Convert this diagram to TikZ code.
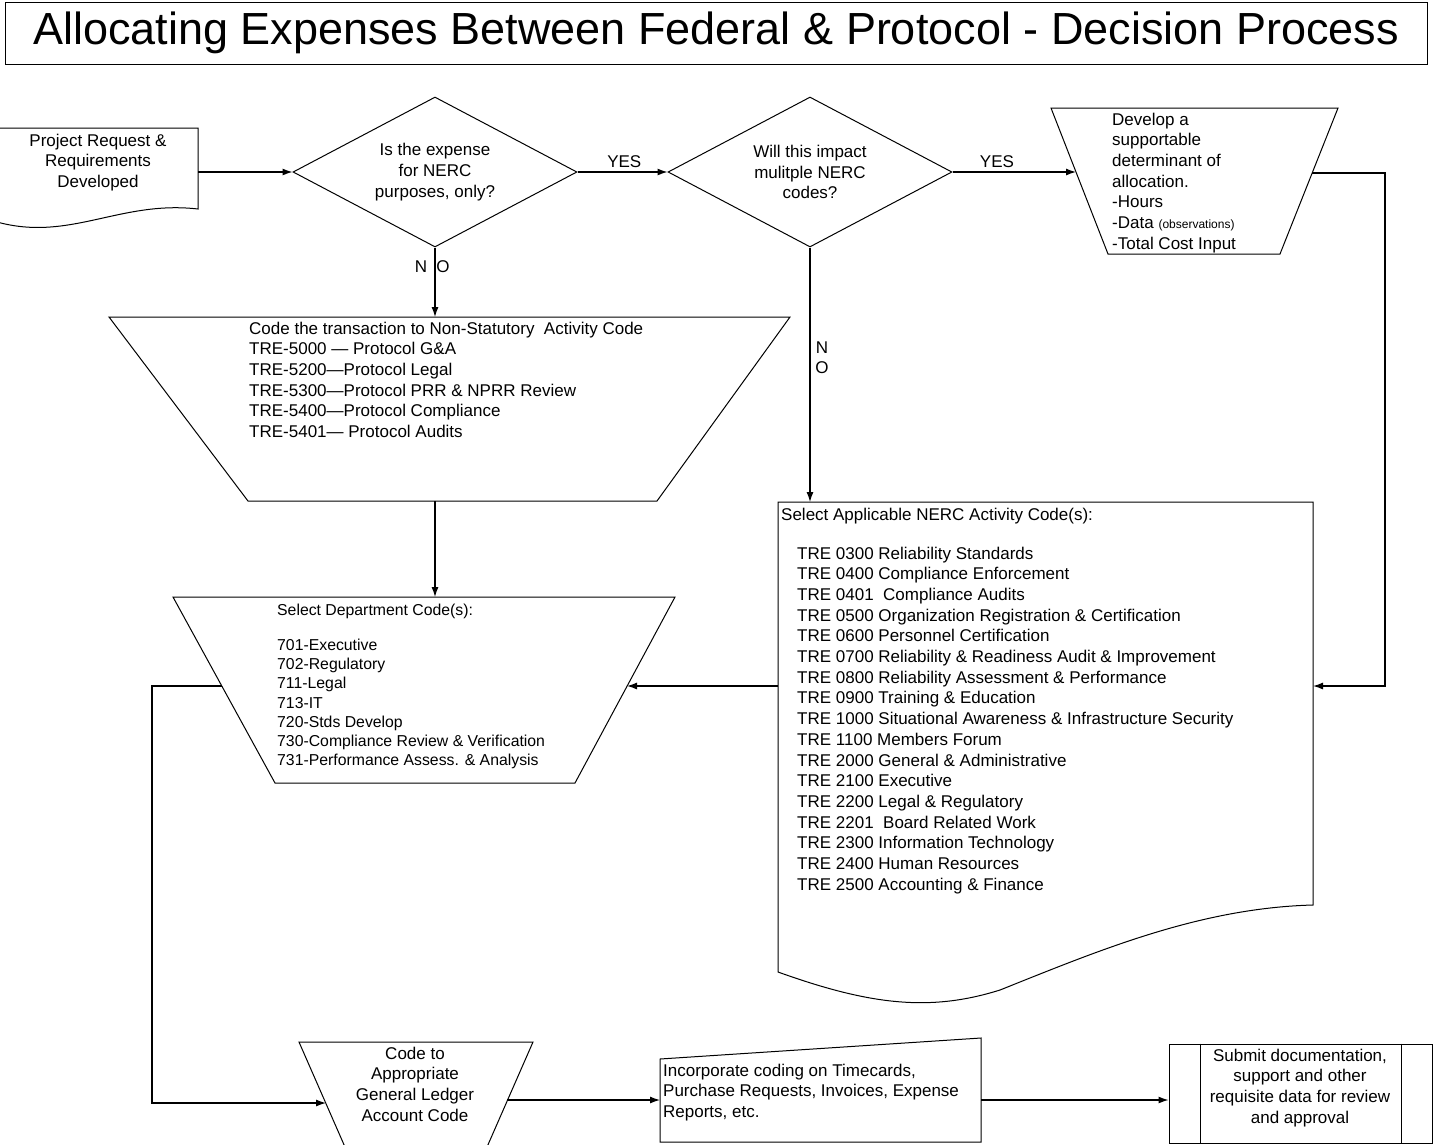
\documentclass[tikz,border=0pt]{standalone}
\usepackage{fontspec}
\setmainfont{Liberation Sans}
\usetikzlibrary{arrows.meta, shapes.geometric}

\begin{document}
\begin{tikzpicture}[x=1pt, y=-1pt,
    >={Latex[length=10pt, width=7pt]},   % Pfeilspitzen
    font=\fontsize{17}{20.7}\selectfont,
    outline/.style={draw, line width=1pt},
    decide/.style={outline, diamond, aspect=1.9, minimum width=284pt, minimum height=150pt, inner sep=0pt, align=center},
    txt/.style={inner sep=0pt, align=left, anchor=north west},
    ctxt/.style={inner sep=0pt, align=center, anchor=north},
    lbl/.style={inner sep=0pt},
    flow/.style={->, line width=1.2pt}]
  % Bildbereich
  \useasboundingbox (0,0) rectangle (1433,1144);
  \clip (0,0) rectangle (1433,1144);
  % Titel
  \node[outline, minimum width=1422pt, minimum height=62pt, inner sep=0pt, font=\fontsize{45}{54}\selectfont] (title) at (716,33)
    {Allocating Expenses Between Federal \& Protocol - Decision Process};
  % Projektanfrage (Dokument)
  \draw[outline] (-3,128) -- (198,128) -- (198,209) .. controls (120,200) and (70,242) .. (-3,222) -- cycle;
  \node[ctxt] (req) at (98,133.5) {Project Request \&\\Requirements\\Developed};
  \coordinate (reqE) at (198,172);
  % Entscheidungen
  \node[decide] (q1) at (435,172) {Is the expense\\for NERC\\purposes, only?};
  \node[decide] (q2) at (810,172) {Will this impact\\mulitple NERC\\codes?};
  % Verteilschluessel
  \draw[outline] (1051,108) -- (1338,108) -- (1280,254) -- (1108,254) -- cycle;
  \node[txt] (alloc) at (1112,112.5) {Develop a\\supportable\\determinant of\\allocation.\\-Hours\\-Data {\fontsize{12}{14}\selectfont(observations)}\\-Total Cost Input};
  \coordinate (allocW) at (1076,172);
  \coordinate (allocE) at (1312,173);
  % Nicht-gesetzliche Codes
  \draw[outline] (109,317) -- (790,317) -- (657,501) -- (248,501) -- cycle;
  \node[txt] (nonstat) at (249,321.5) {Code the transaction to Non-Statutory\ \ Activity Code\\TRE-5000 — Protocol G\&A\\TRE-5200—Protocol Legal\\TRE-5300—Protocol PRR \& NPRR Review\\TRE-5400—Protocol Compliance\\TRE-5401— Protocol Audits};
  \coordinate (nonN) at (435,317);
  \coordinate (nonS) at (435,501);
  % Abteilungen
  \draw[outline] (173,597) -- (675,597) -- (575,783) -- (275,783) -- cycle;
  \node[txt, font=\fontsize{15.8}{19.1}\selectfont] (dept) at (277,604) {Select Department Code(s):\\[16pt]701-Executive\\702-Regulatory\\711-Legal\\713-IT\\720-Stds Develop\\730-Compliance Review \& Verification\\731-Performance Assess. \& Analysis};
  \coordinate (deptN) at (435,597);
  \coordinate (deptW) at (222,686);
  \coordinate (deptE) at (627,686);
  % NERC Codes (Dokument)
  \draw[outline] (778,502) -- (1313,502) -- (1313,905) .. controls (1200,908) and (1100,950) .. (1000,990)
    .. controls (930,1012) and (870,1005) .. (778,972) -- cycle;
  \node[txt] (nercHead) at (781,507.5) {Select Applicable NERC Activity Code(s):};
  \node[txt] (nercList) at (797,546.5) {TRE 0300 Reliability Standards\\TRE 0400 Compliance Enforcement\\TRE 0401\ \ Compliance Audits\\TRE 0500 Organization Registration \& Certification\\TRE 0600 Personnel Certification\\TRE 0700 Reliability \& Readiness Audit \& Improvement\\TRE 0800 Reliability Assessment \& Performance\\TRE 0900 Training \& Education\\TRE 1000 Situational Awareness \& Infrastructure Security\\TRE 1100 Members Forum\\TRE 2000 General \& Administrative\\TRE 2100 Executive\\TRE 2200 Legal \& Regulatory\\TRE 2201\ \ Board Related Work\\TRE 2300 Information Technology\\TRE 2400 Human Resources\\TRE 2500 Accounting \& Finance};
  \coordinate (nercN) at (810,502);
  \coordinate (nercW) at (778,686);
  \coordinate (nercE) at (1313,686);
  % Hauptbuch
  \draw[outline] (299,1042) -- (533,1042) -- (487,1147) -- (345,1147) -- cycle;
  \node[ctxt] (gl) at (415,1046.5) {Code to\\Appropriate\\General Ledger\\Account Code};
  \coordinate (glW) at (326,1103);
  \coordinate (glE) at (507,1100);
  % Erfassung (manuelle Eingabe)
  \draw[outline] (660,1059) -- (981,1038) -- (981,1142) -- (660,1142) -- cycle;
  \node[txt] (incorp) at (663,1063.5) {Incorporate coding on Timecards,\\Purchase Requests, Invoices, Expense\\Reports, etc.};
  \coordinate (incW) at (660,1100);
  \coordinate (incE) at (981,1100);
  % Abgabe (vordefinierter Prozess)
  \node[outline, minimum width=263pt, minimum height=99pt, inner sep=0pt] (sub) at (1300.5,1093.5) {};
  \draw[outline] ([xshift=32pt]sub.north west) -- ([xshift=32pt]sub.south west)
    ([xshift=-31pt]sub.north east) -- ([xshift=-31pt]sub.south east);
  \node[ctxt] (subText) at (1300,1048.5) {Submit documentation,\\support and other\\requisite data for review\\and approval};
  % Beschriftungen
  \node[lbl] (no1n) at (421,267) {N};
  \node[lbl] (no1o) at (443,267) {O};
  \node[lbl] (no2n) at (822,348) {N};
  \node[lbl] (no2o) at (822,368) {O};
  % Verbindungen
  \draw[flow] (reqE) -- (q1.west);
  \draw[flow] (q1.east) -- node[lbl, pos=0.52, above=4pt] (yes1) {YES} (q2.west);
  \draw[flow] (q2.east) -- node[lbl, pos=0.36, above=4pt] (yes2) {YES} (allocW);
  \draw[flow] (allocE) -- ++(73,0) |- (nercE);
  \draw[flow] (q1.south) -- (nonN);
  \draw[flow] (q2.south) -- (nercN);
  \draw[flow] (nonS) -- (deptN);
  \draw[flow] (nercW) -- (deptE);
  \draw[flow] (deptW) -- (152,686) |- (glW);
  \draw[flow] (glE) -- (incW);
  \draw[flow] (incE) -- (incE -| sub.west);
\end{tikzpicture}
\end{document}
